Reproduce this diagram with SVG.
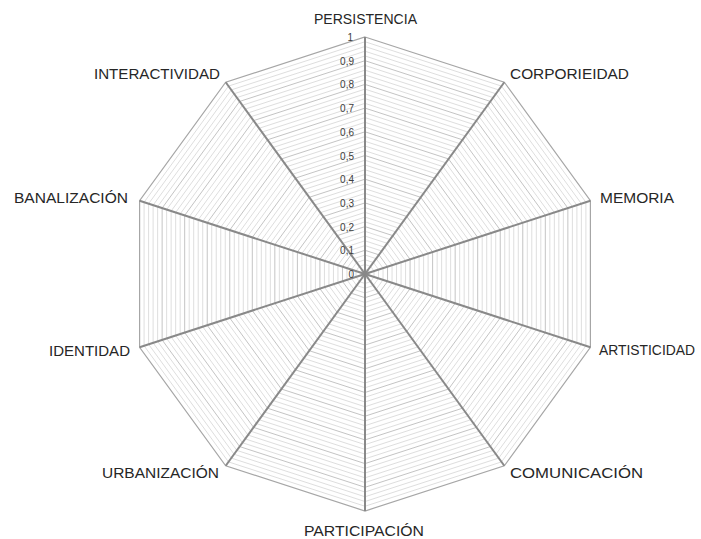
<svg xmlns="http://www.w3.org/2000/svg" xmlns:xlink="http://www.w3.org/1999/xlink" width="701" height="539" viewBox="0 0 701 539">
<style>
.minor{stroke:#dedede;stroke-width:1}
.major{stroke:#c4c4c4;stroke-width:1}
.outer{stroke:#a6a6a6;stroke-width:1.2}
.axis{stroke:#898989;stroke-width:2}
.lbl{font-family:"Liberation Sans",Arial,sans-serif;font-size:15px;fill:#262626}
.tick{font-family:"Liberation Sans",Arial,sans-serif;font-size:10px;fill:#404040;text-anchor:end}
</style>
<defs>
<polygon id="p" fill="none" vector-effect="non-scaling-stroke" points="0,-1 0.587785,-0.809017 0.951057,-0.309017 0.951057,0.309017 0.587785,0.809017 0,1 -0.587785,0.809017 -0.951057,0.309017 -0.951057,-0.309017 -0.587785,-0.809017"/>
</defs>
<rect width="701" height="539" fill="#ffffff"/>
<g id="grid" transform="translate(365,274)">
<g class="minor">
<use xlink:href="#p" transform="scale(4.74)"/><use xlink:href="#p" transform="scale(9.48)"/><use xlink:href="#p" transform="scale(14.22)"/><use xlink:href="#p" transform="scale(18.96)"/>
<use xlink:href="#p" transform="scale(28.44)"/><use xlink:href="#p" transform="scale(33.18)"/><use xlink:href="#p" transform="scale(37.92)"/><use xlink:href="#p" transform="scale(42.66)"/>
<use xlink:href="#p" transform="scale(52.14)"/><use xlink:href="#p" transform="scale(56.88)"/><use xlink:href="#p" transform="scale(61.62)"/><use xlink:href="#p" transform="scale(66.36)"/>
<use xlink:href="#p" transform="scale(75.84)"/><use xlink:href="#p" transform="scale(80.58)"/><use xlink:href="#p" transform="scale(85.32)"/><use xlink:href="#p" transform="scale(90.06)"/>
<use xlink:href="#p" transform="scale(99.54)"/><use xlink:href="#p" transform="scale(104.28)"/><use xlink:href="#p" transform="scale(109.02)"/><use xlink:href="#p" transform="scale(113.76)"/>
<use xlink:href="#p" transform="scale(123.24)"/><use xlink:href="#p" transform="scale(127.98)"/><use xlink:href="#p" transform="scale(132.72)"/><use xlink:href="#p" transform="scale(137.46)"/>
<use xlink:href="#p" transform="scale(146.94)"/><use xlink:href="#p" transform="scale(151.68)"/><use xlink:href="#p" transform="scale(156.42)"/><use xlink:href="#p" transform="scale(161.16)"/>
<use xlink:href="#p" transform="scale(170.64)"/><use xlink:href="#p" transform="scale(175.38)"/><use xlink:href="#p" transform="scale(180.12)"/><use xlink:href="#p" transform="scale(184.86)"/>
<use xlink:href="#p" transform="scale(194.34)"/><use xlink:href="#p" transform="scale(199.08)"/><use xlink:href="#p" transform="scale(203.82)"/><use xlink:href="#p" transform="scale(208.56)"/>
<use xlink:href="#p" transform="scale(218.04)"/><use xlink:href="#p" transform="scale(222.78)"/><use xlink:href="#p" transform="scale(227.52)"/><use xlink:href="#p" transform="scale(232.26)"/>
</g>
<g class="major">
<use xlink:href="#p" transform="scale(23.7)"/><use xlink:href="#p" transform="scale(47.4)"/><use xlink:href="#p" transform="scale(71.1)"/><use xlink:href="#p" transform="scale(94.8)"/><use xlink:href="#p" transform="scale(118.5)"/>
<use xlink:href="#p" transform="scale(142.2)"/><use xlink:href="#p" transform="scale(165.9)"/><use xlink:href="#p" transform="scale(189.6)"/><use xlink:href="#p" transform="scale(213.3)"/>
</g>
<use class="outer" xlink:href="#p" transform="scale(237)"/>
</g>
<g id="connectors" class="axis" transform="translate(365,274)">
<line x1="0" y1="0" x2="0" y2="-237"/>
<line x1="0" y1="0" x2="139.30" y2="-191.74"/>
<line x1="0" y1="0" x2="225.40" y2="-73.24"/>
<line x1="0" y1="0" x2="225.40" y2="73.24"/>
<line x1="0" y1="0" x2="139.30" y2="191.74"/>
<line x1="0" y1="0" x2="0" y2="237"/>
<line x1="0" y1="0" x2="-139.30" y2="191.74"/>
<line x1="0" y1="0" x2="-225.40" y2="73.24"/>
<line x1="0" y1="0" x2="-225.40" y2="-73.24"/>
<line x1="0" y1="0" x2="-139.30" y2="-191.74"/>
</g>
<g id="ticks" class="tick">
<text x="354" y="278">0</text>
<text x="354" y="254.3">0,1</text>
<text x="354" y="230.6">0,2</text>
<text x="354" y="206.9">0,3</text>
<text x="354" y="183.2">0,4</text>
<text x="354" y="159.5">0,5</text>
<text x="354" y="135.8">0,6</text>
<text x="354" y="112.1">0,7</text>
<text x="354" y="88.4">0,8</text>
<text x="354" y="64.7">0,9</text>
<text x="353" y="41">1</text>
</g>
<g id="persistencia"><text class="lbl" x="314" y="23.5" textLength="103" lengthAdjust="spacingAndGlyphs">PERSISTENCIA</text></g>
<g id="corporieidad"><text class="lbl" x="510" y="79.3" textLength="119" lengthAdjust="spacingAndGlyphs">CORPORIEIDAD</text></g>
<g id="memoria"><text class="lbl" x="600" y="202.7" textLength="74" lengthAdjust="spacingAndGlyphs">MEMORIA</text></g>
<g id="artisticidad"><text class="lbl" x="599" y="355.3" font-size="14" textLength="96" lengthAdjust="spacingAndGlyphs" style="font-size:14px">ARTISTICIDAD</text></g>
<g id="comunicacion"><text class="lbl" x="510" y="477.7" textLength="133" lengthAdjust="spacingAndGlyphs">COMUNICACIÓN</text></g>
<g id="participacion"><text class="lbl" x="304" y="536" textLength="120" lengthAdjust="spacingAndGlyphs">PARTICIPACIÓN</text></g>
<g id="urbanizacion"><text class="lbl" x="102" y="477.7" textLength="117" lengthAdjust="spacingAndGlyphs">URBANIZACIÓN</text></g>
<g id="identidad"><text class="lbl" x="49" y="355.7" textLength="81" lengthAdjust="spacingAndGlyphs">IDENTIDAD</text></g>
<g id="banalizacion"><text class="lbl" x="14" y="203.3" textLength="114" lengthAdjust="spacingAndGlyphs">BANALIZACIÓN</text></g>
<g id="interactividad"><text class="lbl" x="94" y="79.3" textLength="126" lengthAdjust="spacingAndGlyphs">INTERACTIVIDAD</text></g>
</svg>
